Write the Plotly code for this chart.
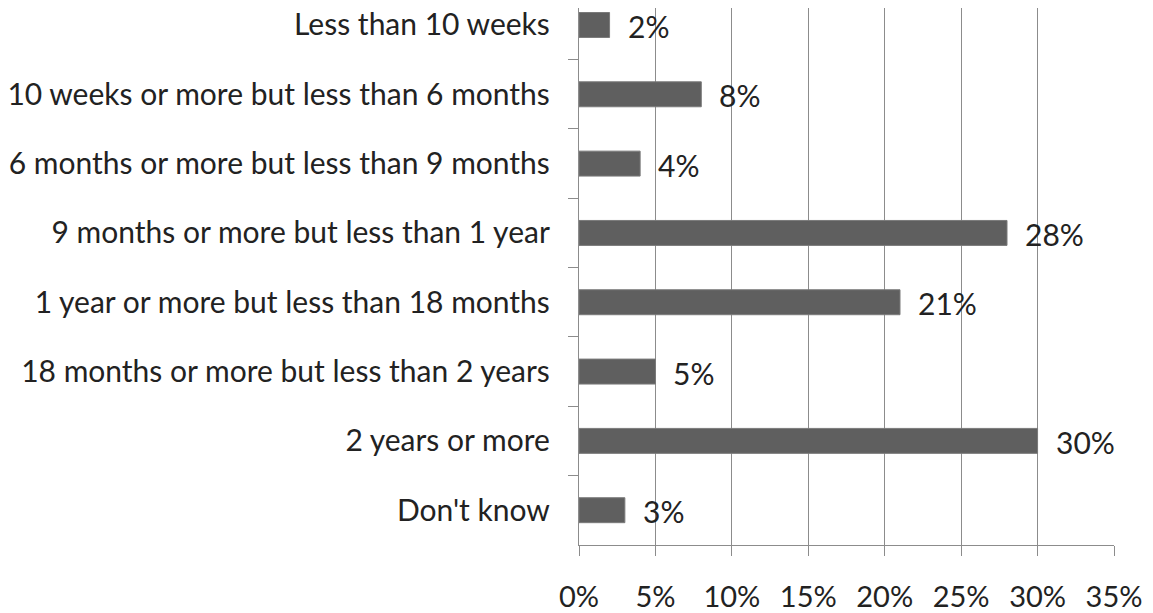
import plotly.graph_objects as go

categories = [
    "Less than 10 weeks",
    "10 weeks or more but less than 6 months",
    "6 months or more but less than 9 months",
    "9 months or more but less than 1 year",
    "1 year or more but less than 18 months",
    "18 months or more but less than 2 years",
    "2 years or more",
    "Don't know",
]
values = [2, 8, 4, 28, 21, 5, 30, 3]
x_ticks = [0, 5, 10, 15, 20, 25, 30, 35]
x_tick_labels = [f"{t}%" for t in x_ticks]

FONT = "Lato"
FS = 30
GRID = "#8c8c8c"

fig = go.Figure()
fig.add_trace(go.Bar(
    y=categories, x=values, orientation="h",
    marker=dict(color="#5f5f5f", line=dict(color="#7a7a7a", width=1)),
    width=0.36, hoverinfo="skip",
))

for c, v in zip(categories, values):
    fig.add_annotation(x=v, y=c, text=f"{v}%", showarrow=False,
                       xanchor="left", yanchor="middle", xshift=16, yshift=-1,
                       font=dict(family=FONT, size=FS, color="#222222"))

fig.update_layout(
    width=1145, height=605,
    margin=dict(l=571, r=39, t=0, b=68, autoexpand=False),
    plot_bgcolor="white", paper_bgcolor="white",
    showlegend=False,
    font=dict(family=FONT, size=FS, color="#222222"),
    xaxis=dict(
        range=[0, 35], tickvals=x_ticks, ticktext=x_tick_labels,
        showgrid=True, gridcolor=GRID, gridwidth=1.3,
        showline=True, linecolor=GRID, linewidth=1.3,
        ticks="outside", ticklen=10, tickcolor=GRID, tickwidth=1.3,
        ticklabelstandoff=16, tickfont=dict(size=29),
        zeroline=False, fixedrange=True, automargin=False,
    ),
    yaxis=dict(
        type="category", categoryorder="array", categoryarray=categories,
        range=[7.502, -0.245],
        tickson="boundaries", ticks="outside", ticklen=10, tickcolor=GRID, tickwidth=1.3,
        showgrid=False, showline=True, linecolor=GRID, linewidth=1.3,
        ticklabelstandoff=22, zeroline=False, fixedrange=True, automargin=False,
    ),
)

fig.write_html("out.html")
